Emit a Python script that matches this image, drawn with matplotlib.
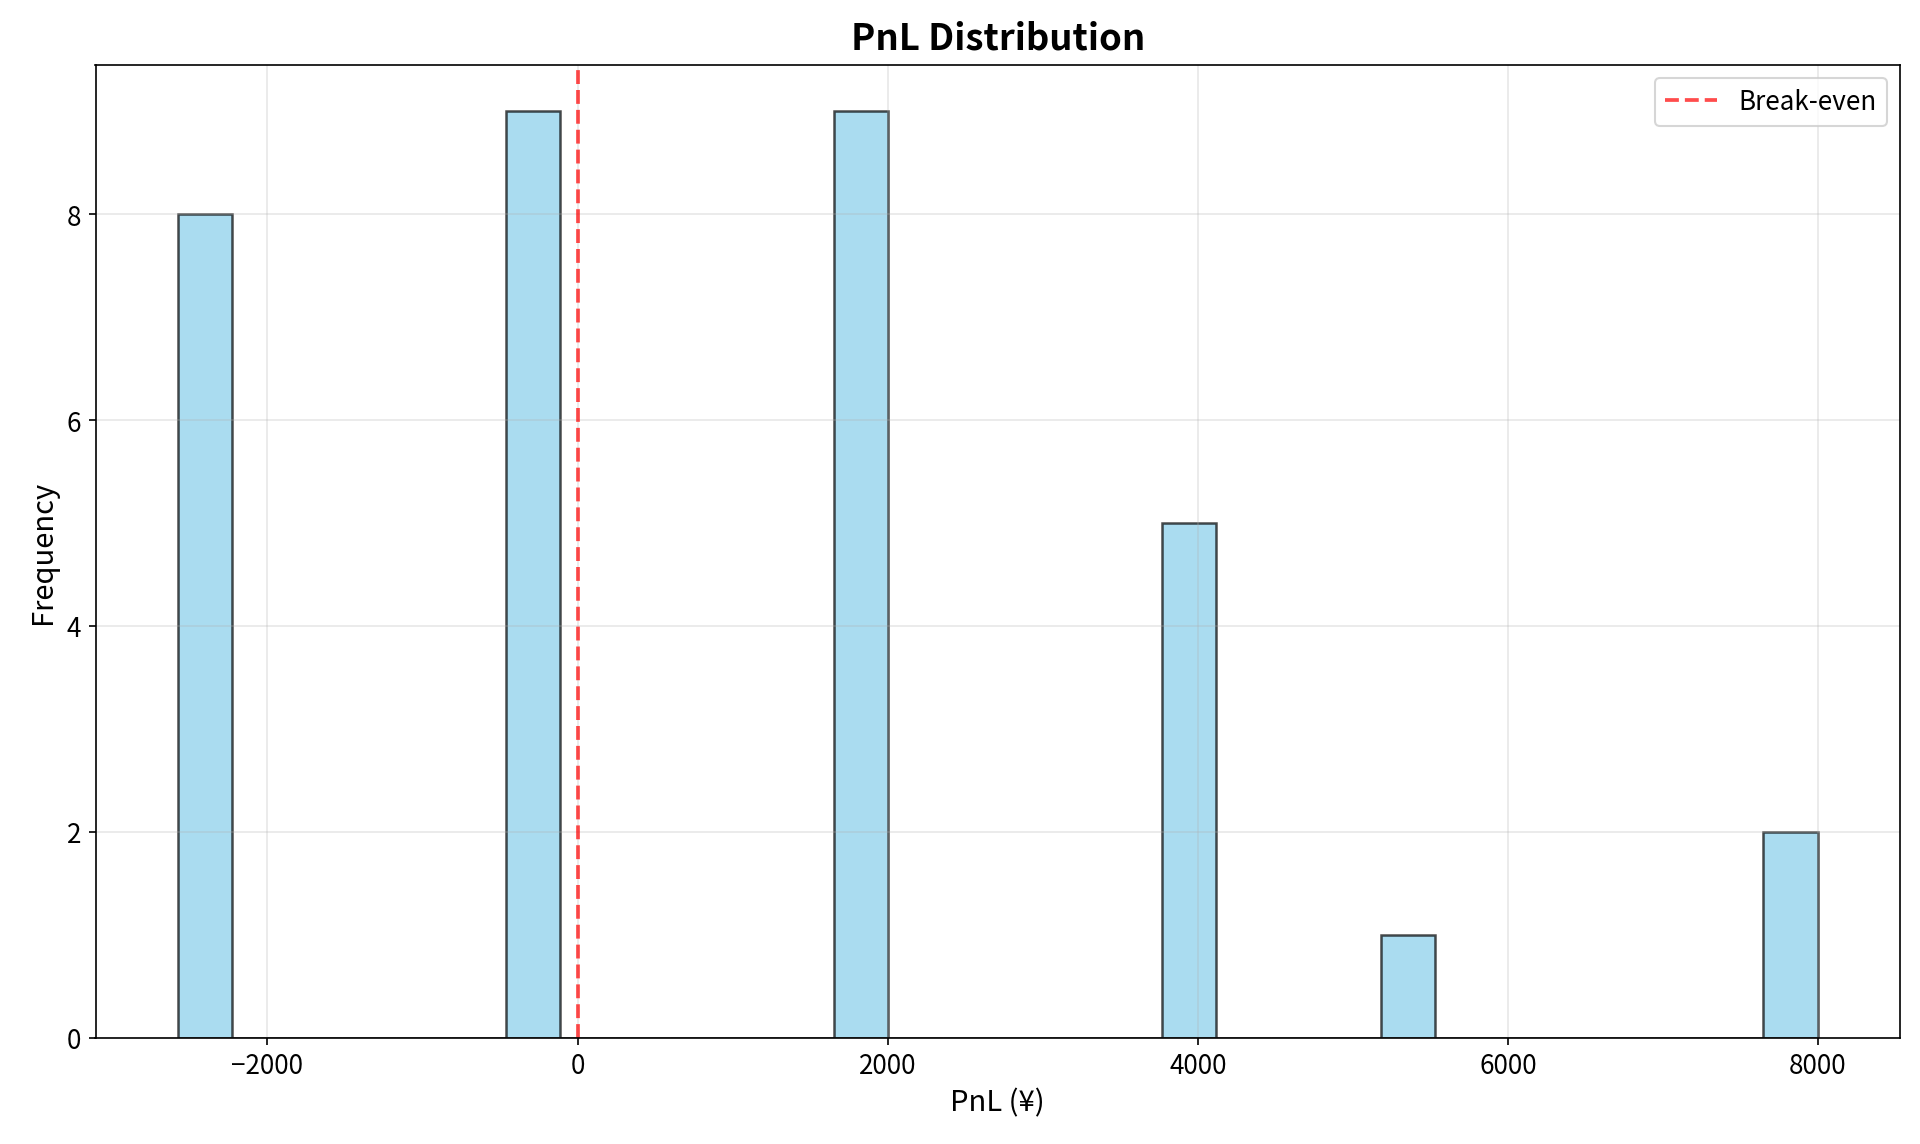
import matplotlib
matplotlib.use("Agg")
import matplotlib.pyplot as plt
import numpy as np

plt.rcParams['font.family'] = ['Noto Sans CJK JP', 'DejaVu Sans']
plt.rcParams['font.size'] = 12

# PnL values per group (value, count)
pnl_values = [-2580, -300, 1800, 3900, 5300, 8000]
pnl_counts = [8, 9, 9, 5, 1, 2]
pnl = np.repeat(pnl_values, pnl_counts)

fig = plt.figure(figsize=(12.8, 7.633), dpi=150)
ax = fig.add_axes([95.5/1920, 1 - 1038.5/1145, (1900-95.5)/1920, (1038.5-66)/1145])

ax.hist(pnl, bins=30, color='skyblue', alpha=0.7, edgecolor='black', linewidth=1.2)
ax.axvline(0, color='red', linestyle='--', alpha=0.7, linewidth=1.8, label='Break-even')
ax.set_title('PnL Distribution', fontsize=17.5, fontweight='bold', pad=8)
ax.set_xlabel('PnL (¥)', fontsize=14)
ax.set_ylabel('Frequency', fontsize=14)
ax.tick_params(labelsize=12.5)
ax.legend(loc='upper right', fontsize=12.5)
ax.grid(True, alpha=0.3)

fig.savefig('out.png', dpi=150)
